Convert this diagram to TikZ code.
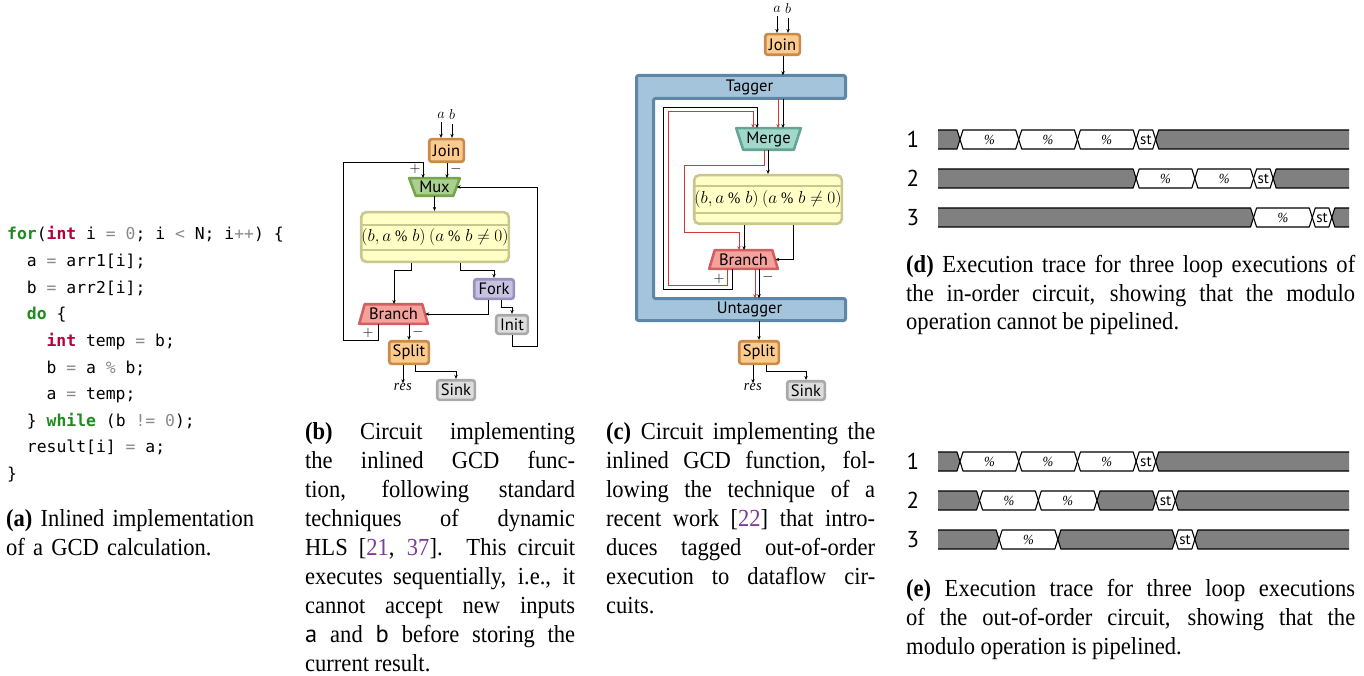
\documentclass[tikz,border=0pt]{standalone}
\usepackage{fontspec}
\setmainfont{Liberation Serif}[FakeStretch=0.92]
\setsansfont{PT Sans}
\setmonofont{DejaVu Sans Mono}
\usetikzlibrary{arrows.meta,calc}
\definecolor{orF}{HTML}{FDCB8E}
\definecolor{orD}{HTML}{C98A4A}
\definecolor{grnF}{HTML}{A9D08E}
\definecolor{grnD}{HTML}{76A64B}
\definecolor{yelF}{HTML}{FFFFC6}
\definecolor{yelD}{HTML}{C8C78E}
\definecolor{frkF}{HTML}{C6C2E0}
\definecolor{frkD}{HTML}{9891BF}
\definecolor{gryF}{HTML}{DDDDDD}
\definecolor{gryD}{HTML}{A9A9A9}
\definecolor{brF}{HTML}{F5A29C}
\definecolor{brD}{HTML}{D26060}
\definecolor{mrF}{HTML}{A2D8CA}
\definecolor{mrD}{HTML}{65A596}
\definecolor{tgF}{HTML}{A4C4DC}
\definecolor{tgD}{HTML}{5E86A6}
\definecolor{redL}{HTML}{D23A3A}
\definecolor{citeC}{HTML}{7D3C98}
\definecolor{kwG}{HTML}{1E8C1E}
\definecolor{kwR}{HTML}{B5003F}
\definecolor{opG}{HTML}{8A8A8A}
\definecolor{trG}{HTML}{808080}
\newcommand\kwd[1]{{\color{kwG}\bfseries #1}}
\newcommand\typ[1]{{\color{kwR}\bfseries #1}}
\newcommand\opr[1]{{\color{opG}#1}}
\newcommand\cit[1]{{\color{citeC}#1}}
\newcommand\capsetup{\tolerance=10000\hyphenpenalty=10000\emergencystretch=0pt\relax}
\newcommand\trapshape[6]{%
  \draw[#6] ({#1-#3},{#2-#5}) -- ({#1+#3},{#2-#5}) -- ({#1+#4},{#2+#5}) -- ({#1-#4},{#2+#5}) -- cycle;}
\newcommand\tseg[4]{%
  \draw[trline, fill=#4] ({#1+3},#3) -- ({#2-3},#3) -- (#2,{#3+9.5}) -- ({#2-3},{#3+19}) -- ({#1+3},{#3+19}) -- (#1,{#3+9.5}) -- cycle;}
\newcommand\tpct[3]{\tseg{#1}{#2}{#3}{white}\node[pctlab] at ({(#1+#2)/2},{#3+9.5}) {\%};}
\newcommand\tst[3]{\tseg{#1}{#2}{#3}{white}\node[stlab] at ({(#1+#2)/2},{#3+9.5}) {st};}
\newcommand\tbeg[3]{%
  \fill[trG] (#1,#3) -- ({#2-3},#3) -- (#2,{#3+9.5}) -- ({#2-3},{#3+19}) -- (#1,{#3+19}) -- cycle;
  \draw[trline] (#1,#3) -- ({#2-3},#3) -- (#2,{#3+9.5}) -- ({#2-3},{#3+19}) -- (#1,{#3+19});}
\newcommand\tfin[3]{%
  \fill[trG] (#2,#3) -- ({#1+3},#3) -- (#1,{#3+9.5}) -- ({#1+3},{#3+19}) -- (#2,{#3+19}) -- cycle;
  \draw[trline] (#2,#3) -- ({#1+3},#3) -- (#1,{#3+9.5}) -- ({#1+3},{#3+19}) -- (#2,{#3+19});}
\tikzset{
  box/.style={draw, line width=2.6pt, rounded corners=2.5pt, inner sep=0pt, font=\sffamily\fontsize{16.5}{16.5}\selectfont},
  tz/.style={inner sep=0pt, font=\sffamily\fontsize{16.5}{16.5}\selectfont},
  arr/.style={-{Stealth[length=4pt,width=3.4pt]}, line width=0.9pt},
  rarr/.style={-{Stealth[length=4pt,width=3.4pt]}, line width=1pt, draw=redL},
  lab/.style={inner sep=0pt, font=\fontsize{15}{15}\selectfont},
  pm/.style={inner sep=0pt, font=\fontsize{15}{15}\selectfont},
  trline/.style={draw=black, line width=1.1pt, line join=round},
  pctlab/.style={inner sep=0pt, font=\itshape\fontsize{14}{14}\selectfont},
  stlab/.style={inner sep=0pt, font=\sffamily\fontsize{15}{15}\selectfont},
  rowlab/.style={inner sep=0pt, font=\sffamily\fontsize{23}{23}\selectfont},
  codeln/.style={anchor=base west, inner sep=0pt, font=\ttfamily\fontsize{16.4}{20}\selectfont},
  captext/.style={anchor=base west, inner sep=0pt, align=justify, font=\fontsize{24.5}{29}\selectfont},
}
\begin{document}
\begin{tikzpicture}[x=1pt,y=-1pt]
\path[use as bounding box, fill=white] (0,0) rectangle (1364,676);

% ---------------- (a) code ----------------
\node[codeln] (c1) at (7,240) {\kwd{for}(\typ{int} i \opr{=} \opr{0}; i \opr{<} N; i\opr{++}) \{};
\node[codeln] (c2) at (26.7,266.6) {a \opr{=} arr1[i];};
\node[codeln] (c3) at (26.7,293.2) {b \opr{=} arr2[i];};
\node[codeln] (c4) at (26.7,319.8) {\kwd{do} \{};
\node[codeln] (c5) at (46.4,346.4) {\typ{int} temp \opr{=} b;};
\node[codeln] (c6) at (46.4,373) {b \opr{=} a \opr{\%} b;};
\node[codeln] (c7) at (46.4,399.6) {a \opr{=} temp;};
\node[codeln] (c8) at (26.7,426.2) {\} \kwd{while} (b \opr{!=} \opr{0});};
\node[codeln] (c9) at (26.7,452.8) {result[i] \opr{=} a;};
\node[codeln] (c10) at (7,479.4) {\}};
\node[captext, align=left, text width=290pt] (capA) at (6,526) {\textbf{(a)} Inlined implementation\\of a GCD calculation.};

% ---------------- (b) circuit ----------------
\node[lab] (aB) at (441,115) {$a$};
\node[lab] (bB) at (452,115) {$b$};
\node[box, fill=orF, draw=orD, minimum width=34.6pt, minimum height=22.6pt] (joinB) at (446.5,150.5) {Join};
\trapshape{434.5}{187}{25.3}{18.8}{8.8}{fill=grnF, draw=grnD, line width=2.6pt, line join=round}
\node[tz, minimum width=44.1pt, minimum height=17.6pt] (muxB) at (434.5,187) {Mux};
\node[box, fill=yelF, draw=yelD, rounded corners=5pt, minimum width=147.6pt, minimum height=49.6pt, font=\fontsize{16}{16}\selectfont] (yelB) at (435,237) {$(b, a \mathbin{\%} b)\ (a \mathbin{\%} b \neq 0)$};
\draw[yelD, line width=1.6pt] (yelB.west |- 0,225) -- (yelB.east |- 0,225);
\draw[yelD, line width=1.6pt] (yelB.west |- 0,250) -- (yelB.east |- 0,250);
\node[box, fill=frkF, draw=frkD, minimum width=39.6pt, minimum height=19.6pt] (forkB) at (494,289) {Fork};
\node[box, fill=gryF, draw=gryD, minimum width=31.6pt, minimum height=18.6pt] (initB) at (512,324.5) {Init};
\trapshape{393.5}{314}{28.8}{34.3}{9.8}{fill=brF, draw=brD, line width=2.6pt, line join=round}
\node[tz, minimum width=63.1pt, minimum height=19.6pt] (branchB) at (393.5,314) {Branch};
\node[box, fill=orF, draw=orD, minimum width=39.6pt, minimum height=22.6pt] (splitB) at (409,352.5) {Split};
\node[box, fill=gryF, draw=gryD, minimum width=37.6pt, minimum height=19.6pt] (sinkB) at (456,390) {Sink};
\node[lab] (resB) at (403,387) {$\mathit{res}$};

\draw[arr] ([yshift=-4]aB.south) -- (aB.south |- joinB.north);
\draw[arr] ([yshift=-4]bB.south) -- (bB.south |- joinB.north);
\draw[arr] ([xshift=0.5]joinB.south) -- ([xshift=0.5]joinB.south |- muxB.north);
\node[pm] (minB1) at (456,169) {$-$};
\draw[arr] ([xshift=-15.5]branchB.south) |- (343,340) |- (423,162) -- ([xshift=-11.5]muxB.north);
\node[pm] (plusB1) at (415,169) {$+$};
\node[pm] (plusB2) at (368,333) {$+$};
\draw[arr] (muxB.south) -- (muxB.south |- yelB.north);
\draw[arr] ([xshift=-24]yelB.south) -- ++(0,7.2) -| ([xshift=0.5]branchB.north);
\draw[arr] ([xshift=25]yelB.south) -- ++(0,7.2) -| (forkB.north);
\draw[arr] ([xshift=-6]forkB.south) |- (branchB.east);
\draw[arr] ([xshift=7]forkB.south) -- ++(0,7) -| (initB.north);
\draw[arr] (initB.south) |- (537,346) |- (muxB.east);
\draw[arr] ([xshift=15.5]branchB.south) -- ([xshift=15.5]branchB.south |- splitB.north);
\node[pm] (minB2) at (418,332) {$-$};
\draw[arr] ([xshift=-6]splitB.south) -- ([xshift=-6]splitB.south |- resB.north);
\draw[arr] ([xshift=6]splitB.south) -- ++(0,6) -| (sinkB.north);

% ---------------- (c) circuit ----------------
\draw[draw=tgD, fill=tgF, line width=3pt, rounded corners=2pt] (636.5,75.5) -- (845.5,75.5) -- (845.5,98.5) -- (653.5,98.5) -- (653.5,298.5) -- (845.5,298.5) -- (845.5,320.5) -- (636.5,320.5) -- cycle;
\node[tz, minimum width=190pt, minimum height=23pt] (tagger) at (749.5,87) {Tagger};
\node[tz, minimum width=190pt, minimum height=22pt] (untagger) at (749.5,309.5) {Untagger};
\node[lab] (aC) at (777,9) {$a$};
\node[lab] (bC) at (788,9) {$b$};
\node[box, fill=orF, draw=orD, minimum width=34.6pt, minimum height=20.6pt] (joinC) at (782.5,44.5) {Join};
\trapshape{768.5}{139}{32.3}{25.3}{10.8}{fill=mrF, draw=mrD, line width=2.6pt, line join=round}
\node[tz, minimum width=57.6pt, minimum height=21.6pt] (mergeC) at (768.5,139) {Merge};
\node[box, fill=yelF, draw=yelD, rounded corners=5pt, minimum width=147.6pt, minimum height=48.6pt, font=\fontsize{16}{16}\selectfont] (yelC) at (768,199.5) {$(b, a \mathbin{\%} b)\ (a \mathbin{\%} b \neq 0)$};
\draw[yelD, line width=1.6pt] (yelC.west |- 0,186) -- (yelC.east |- 0,186);
\draw[yelD, line width=1.6pt] (yelC.west |- 0,213) -- (yelC.east |- 0,213);
\trapshape{743.5}{259.5}{28.8}{34.3}{9.3}{fill=brF, draw=brD, line width=2.6pt, line join=round}
\node[tz, minimum width=63.1pt, minimum height=18.6pt] (branchC) at (743.5,259.5) {Branch};
\node[box, fill=orF, draw=orD, minimum width=39.6pt, minimum height=22.6pt] (splitC) at (759,352.5) {Split};
\node[box, fill=gryF, draw=gryD, minimum width=37.6pt, minimum height=18.6pt] (sinkC) at (806,390.5) {Sink};
\node[lab] (resC) at (753,387) {$\mathit{res}$};

\draw[arr] ([yshift=-4]aC.south) -- (aC.south |- joinC.north);
\draw[arr] ([yshift=-4]bC.south) -- (bC.south |- joinC.north);
\draw[arr] ([xshift=0.5]joinC.south) -- ([xshift=0.5]joinC.south |- tagger.north);
\draw[arr] ([xshift=33.5]tagger.south) -- ([xshift=33.5]tagger.south |- mergeC.north);
\draw[rarr] ([xshift=28.5]tagger.south) -- ([xshift=28.5]tagger.south |- mergeC.north);
\draw[arr] ([xshift=-11.5]branchC.south) |- (663,289) |- (757,107) -- ([xshift=-11.5]mergeC.north);
\draw[rarr] ([xshift=-16.5]branchC.south) |- (668,285) |- (753,112) -- ([xshift=-15.5]mergeC.north);
\node[pm] (plusC) at (719,279) {$+$};
\draw[arr] ([xshift=-0.5]mergeC.south) -- ([xshift=-0.5]mergeC.south |- yelC.north);
\draw[rarr] ([xshift=-4.5]mergeC.south) |- (684,166) |- (739,233) -- ([xshift=-4.5]branchC.north);
\draw[arr] ([xshift=-24]yelC.south) -- ([xshift=-24]yelC.south |- branchC.north);
\draw[arr] ([xshift=25]yelC.south) |- (branchC.east);
\draw[rarr] ([xshift=11.5]branchC.south) -- ([xshift=11.5]branchC.south |- untagger.north);
\draw[arr] ([xshift=15.5]branchC.south) -- ([xshift=15.5]branchC.south |- untagger.north);
\node[pm] (minC) at (768,277) {$-$};
\draw[arr] (splitC.north |- untagger.south) -- (splitC.north);
\draw[arr] ([xshift=-6]splitC.south) -- ([xshift=-6]splitC.south |- resC.north);
\draw[arr] ([xshift=7]splitC.south) -- ++(0,6) -| (sinkC.north);

% ---------------- captions b, c ----------------
\node[captext, text width=270pt] (capB) at (305,439) {\capsetup \textbf{(b)} Circuit implementing\linebreak the inlined GCD func-\linebreak tion, following standard\linebreak techniques of dynamic\linebreak HLS [\cit{21}, \cit{37}]. This circuit\linebreak executes sequentially, i.e., it\linebreak cannot accept new inputs\linebreak {\sffamily a} and {\sffamily b} before storing the\linebreak current result.};
\node[captext, text width=269pt] (capC) at (606,439) {\capsetup \textbf{(c)} Circuit implementing the\linebreak inlined GCD function, fol-\linebreak lowing the technique of a\linebreak recent work [\cit{22}] that intro-\linebreak duces tagged out-of-order\linebreak execution to dataflow cir-\linebreak cuits.};

% ---------------- (d) trace ----------------
\node[rowlab] (d1) at (913,139.5) {1};
\node[rowlab] (d2) at (913,178.5) {2};
\node[rowlab] (d3) at (913,217.5) {3};
\tbeg{938}{960}{130}
\tpct{960}{1018.71}{130}\tpct{1018.71}{1077.42}{130}\tpct{1077.42}{1136.13}{130}
\tst{1136.13}{1155.7}{130}
\tfin{1155.7}{1349}{130}
\tbeg{938}{1136.13}{169}
\tpct{1136.13}{1194.84}{169}\tpct{1194.84}{1253.55}{169}
\tst{1253.55}{1273.12}{169}
\tfin{1273.12}{1349}{169}
\tbeg{938}{1253.55}{208}
\tpct{1253.55}{1312.26}{208}
\tst{1312.26}{1331.83}{208}
\tfin{1331.83}{1349}{208}
\node[captext, text width=449pt] (capD) at (906,272) {\capsetup \textbf{(d)} Execution trace for three loop executions of\linebreak the in-order circuit, showing that the modulo\linebreak operation cannot be pipelined.};

% ---------------- (e) trace ----------------
\node[rowlab] (e1) at (913,461.5) {1};
\node[rowlab] (e2) at (913,500.5) {2};
\node[rowlab] (e3) at (913,539.5) {3};
\tbeg{938}{960}{452}
\tpct{960}{1018.71}{452}\tpct{1018.71}{1077.42}{452}\tpct{1077.42}{1136.13}{452}
\tst{1136.13}{1155.7}{452}
\tfin{1155.7}{1349}{452}
\tbeg{938}{979.57}{491}
\tpct{979.57}{1038.28}{491}\tpct{1038.28}{1096.99}{491}
\tseg{1096.99}{1155.7}{491}{trG}
\tst{1155.7}{1175.27}{491}
\tfin{1175.27}{1349}{491}
\tbeg{938}{999.14}{530}
\tpct{999.14}{1057.85}{530}
\tseg{1057.85}{1175.27}{530}{trG}
\tst{1175.27}{1194.84}{530}
\tfin{1194.84}{1349}{530}
\node[captext, text width=449pt] (capE) at (906,596) {\capsetup \textbf{(e)} Execution trace for three loop executions\linebreak of the out-of-order circuit, showing that the\linebreak modulo operation is pipelined.};
\end{tikzpicture}
\end{document}
